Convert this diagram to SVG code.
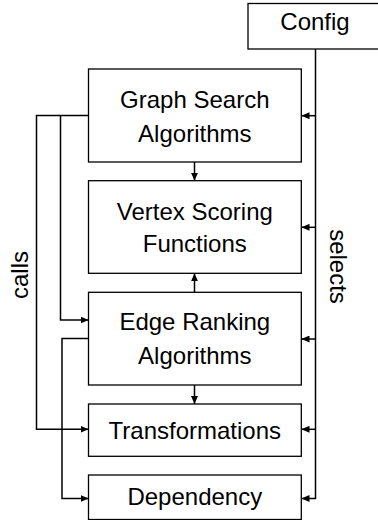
<svg xmlns="http://www.w3.org/2000/svg" width="378" height="520" viewBox="0 0 378 520">
<defs>
<marker id="arr" markerUnits="userSpaceOnUse" markerWidth="8" markerHeight="7" refX="8" refY="3.5" orient="auto">
<path d="M0,0 L8,3.5 L0,7 z" fill="#000"/>
</marker>
<style>
.box{fill:#fff;stroke:#000;stroke-width:1.3}
.t{font-family:"Liberation Sans",Arial,sans-serif;font-size:24px;fill:#000;text-anchor:middle}
.c{fill:none;stroke:#000;stroke-width:1.5}
</style>
</defs>
<rect width="378" height="520" fill="#fff"/>
<g id="connectors">
<path class="c" d="M315.5,49 V498.5 H301.5" marker-end="url(#arr)"/>
<path class="c" d="M315.5,115.7 H301.5" marker-end="url(#arr)"/>
<path class="c" d="M315.5,227.3 H301.5" marker-end="url(#arr)"/>
<path class="c" d="M315.5,339 H301.5" marker-end="url(#arr)"/>
<path class="c" d="M315.5,429.3 H301.5" marker-end="url(#arr)"/>
<path class="c" d="M89,115.5 H36.5 V429.3 H88.5" marker-end="url(#arr)"/>
<path class="c" d="M60.5,115.5 V320 H88.5" marker-end="url(#arr)"/>
<path class="c" d="M88.5,338.5 H62 V498.5 H88.5" marker-end="url(#arr)"/>
<path class="c" d="M194.5,162 V180.7" marker-end="url(#arr)"/>
<path class="c" d="M194.5,292.3 V273.3" marker-end="url(#arr)"/>
<path class="c" d="M194.5,385 V404" marker-end="url(#arr)"/>
<text class="t" transform="translate(28,275) rotate(-90)">calls</text>
<text class="t" transform="translate(330,266.5) rotate(90)">selects</text>
</g>
<g id="config">
<rect class="box" x="248" y="3.5" width="132" height="45.5"/>
<text class="t" x="315" y="30">Config</text>
</g>
<g id="graph-search">
<rect class="box" x="88.5" y="69" width="212.8" height="93"/>
<text class="t" x="194.8" y="108.3">Graph Search</text>
<text class="t" x="194.8" y="141.7">Algorithms</text>
</g>
<g id="vertex-scoring">
<rect class="box" x="88.5" y="180.7" width="212.8" height="92.6"/>
<text class="t" x="194.8" y="220">Vertex Scoring</text>
<text class="t" x="194.8" y="251.7">Functions</text>
</g>
<g id="edge-ranking">
<rect class="box" x="88.5" y="292.3" width="212.8" height="92.7"/>
<text class="t" x="194.8" y="330">Edge Ranking</text>
<text class="t" x="194.8" y="364">Algorithms</text>
</g>
<g id="transformations">
<rect class="box" x="88.5" y="404" width="212.8" height="52.3"/>
<text class="t" x="194.8" y="439.3">Transformations</text>
</g>
<g id="dependency">
<rect class="box" x="88.5" y="475" width="212.8" height="44.5"/>
<text class="t" x="194.8" y="505">Dependency</text>
</g>
</svg>
